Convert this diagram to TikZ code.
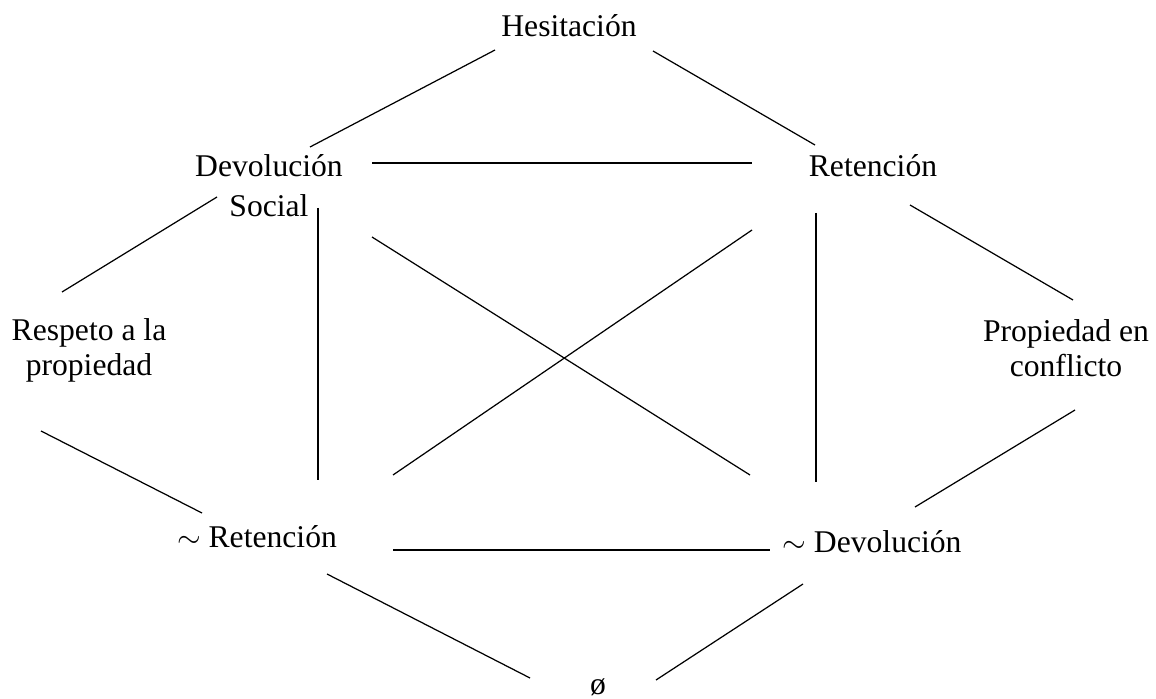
\documentclass[tikz,border=0pt]{standalone}
\usepackage{fontspec}
\setmainfont{Liberation Serif}
\usetikzlibrary{positioning,calc}

\begin{document}
\begin{tikzpicture}[
  x=0.02cm, y=-0.02cm,
  lbl/.style={inner sep=0pt, align=center, font=\fontsize{18}{20}\selectfont},
  wide/.style={lbl, font=\fontsize{18}{22.7}\selectfont},
  link/.style={line width=0.7pt, black}
]
  \useasboundingbox (0,0) rectangle (1156,699);

  \node[lbl, anchor=base] (hes) at (569,37) {Hesitación};
  \node[wide] (devs) at (269,186) {Devolución\\Social};
  \node[lbl, anchor=base] (ret) at (873,177) {Retención};
  \node[lbl] (resp) at (89,350) {Respeto a la\\propiedad};
  \node[lbl] (conf) at (1066,348) {Propiedad en\\conflicto};
  \node[lbl, anchor=base] (nret) at (257,547) {$\sim$ Retención};
  \node[lbl, anchor=base] (ndev) at (872,552) {$\sim$ Devolución};
  \node[lbl, anchor=base] (empty) at (598,694) {ø};

  % upper part
  \draw[link] ([shift={(-74,13)}]hes.base) -- ([shift={(41,-39)}]devs.center);
  \draw[link] ([shift={(84,14)}]hes.base) -- ([shift={(-58,-32)}]ret.base);
  \draw[link] ([shift={(103,-23)}]devs.center) -- ([shift={(-121,-14)}]ret.base);
  \draw[link] ([shift={(-52,11)}]devs.center) -- ([shift={(-27,-58)}]resp.center);
  \draw[link] ([shift={(37,28)}]ret.base) -- ([shift={(7,-48)}]conf.center);

  % middle
  \draw[link] ([shift={(49,22)}]devs.center) -- ([shift={(61,-67)}]nret.base);
  \draw[link] ([shift={(-57,36)}]ret.base) -- ([shift={(-56,-70)}]ndev.base);
  \draw[link] ([shift={(103,51)}]devs.center) -- ([shift={(-122,-77)}]ndev.base);
  \draw[link] ([shift={(136,-72)}]nret.base) -- ([shift={(-121,53)}]ret.base);

  % lower part
  \draw[link] ([shift={(-48,81)}]resp.center) -- ([shift={(-55,-34)}]nret.base);
  \draw[link] ([shift={(9,62)}]conf.center) -- ([shift={(43,-45)}]ndev.base);
  \draw[link] ([shift={(136,3)}]nret.base) -- ([shift={(-102,-2)}]ndev.base);
  \draw[link] ([shift={(70,27)}]nret.base) -- ([shift={(-68,-16)}]empty.base);
  \draw[link] ([shift={(-69,32)}]ndev.base) -- ([shift={(58,-14)}]empty.base);
\end{tikzpicture}
\end{document}
